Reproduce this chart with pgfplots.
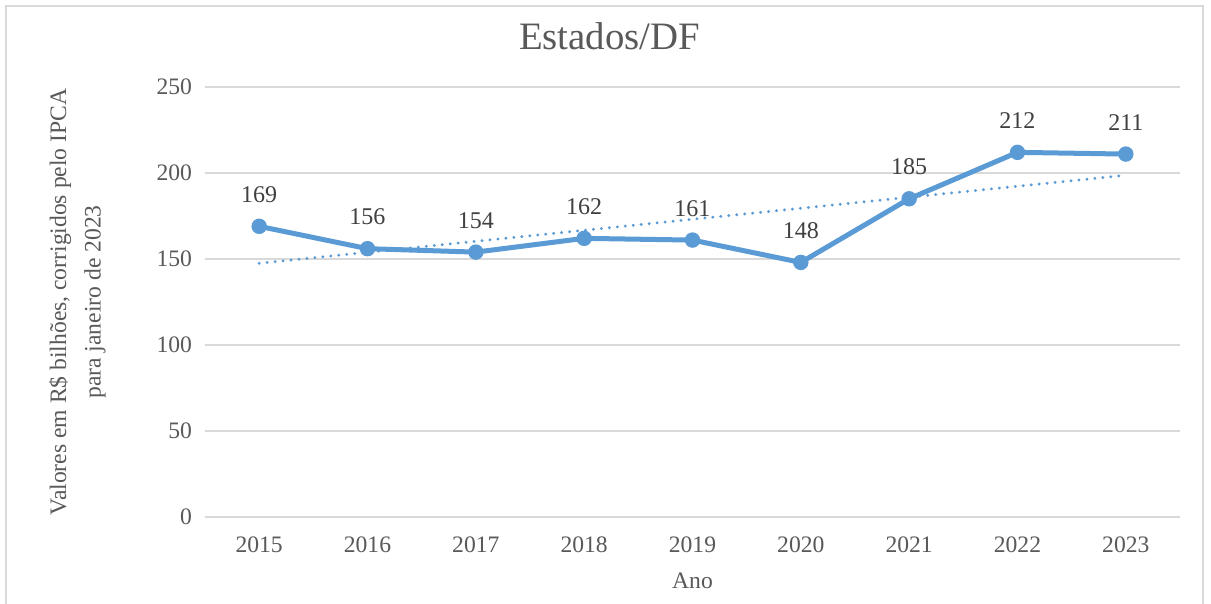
\documentclass[border=0pt]{standalone}
\usepackage{pgfplots}
\pgfplotsset{compat=1.18}
\usepackage{fontspec}
\setmainfont{Liberation Serif}
\definecolor{serieblue}{HTML}{5B9BD5}
\definecolor{txtgray}{HTML}{595959}
\definecolor{lblgray}{HTML}{404040}
\definecolor{gridgray}{HTML}{D9D9D9}
\begin{document}
\begin{tikzpicture}
\useasboundingbox (0,0) rectangle (605.5pt,302pt);
\clip (0,0) rectangle (605.5pt,302pt);
\fill[white] (0,0) rectangle (605.5pt,302pt);
\draw[gridgray, line width=1pt] (3pt,-10pt) rectangle (601.5pt,299pt);
\begin{axis}[
  at={(102.5pt,43.5pt)}, anchor=south west,
  scale only axis, width=487.5pt, height=215pt,
  xmin=-0.5, xmax=8.5, ymin=0, ymax=250,
  xtick={0,...,8},
  xticklabels={2015,2016,2017,2018,2019,2020,2021,2022,2023},
  ytick={0,50,...,250},
  axis line style={draw=none},
  x axis line style={draw=gridgray, line width=1pt},
  tick style={draw=none},
  ymajorgrids, grid style={gridgray, line width=1pt},
  axis x line*=bottom,
  every tick label/.append style={font=\fontsize{11.8}{14}\selectfont, text=txtgray},
  /pgf/number format/assume math mode=true,
  yticklabel style={xshift=-3pt},
  xticklabel style={yshift=-6.5pt},
  title={Estados/DF},
  title style={at={(rel axis cs:0.415,1.0907)}, anchor=center, font=\fontsize{19.4}{22}\selectfont, text=txtgray},
  xlabel={Ano},
  xlabel style={at={(rel axis cs:0.5,-0.1495)}, anchor=center, font=\fontsize{11.8}{14}\selectfont, text=txtgray},
  ylabel={Valores em R\$ bilhões, corrigidos pelo IPCA\\para janeiro de 2023},
  ylabel style={at={(rel axis cs:-0.131,0.5)}, anchor=center, align=center, font=\fontsize{11.8}{17.3}\selectfont, text=txtgray},
  clip=false,
]
\addplot[serieblue, line width=1.6pt, line cap=round, dash pattern=on 0.01pt off 3.99pt] coordinates {(0,147.5) (8,198.7)};
\addplot[serieblue, line width=2.5pt, mark=*, mark size=3.6pt, mark options={fill=serieblue, draw=serieblue, line width=0.5pt},
  nodes near coords,
  every node near coord/.append style={font=\fontsize{12}{14}\selectfont, text=lblgray, anchor=base, yshift=12pt},
] coordinates {
(0,169) (1,156) (2,154) (3,162) (4,161) (5,148) (6,185) (7,212) (8,211)
};
\end{axis}
\end{tikzpicture}
\end{document}
